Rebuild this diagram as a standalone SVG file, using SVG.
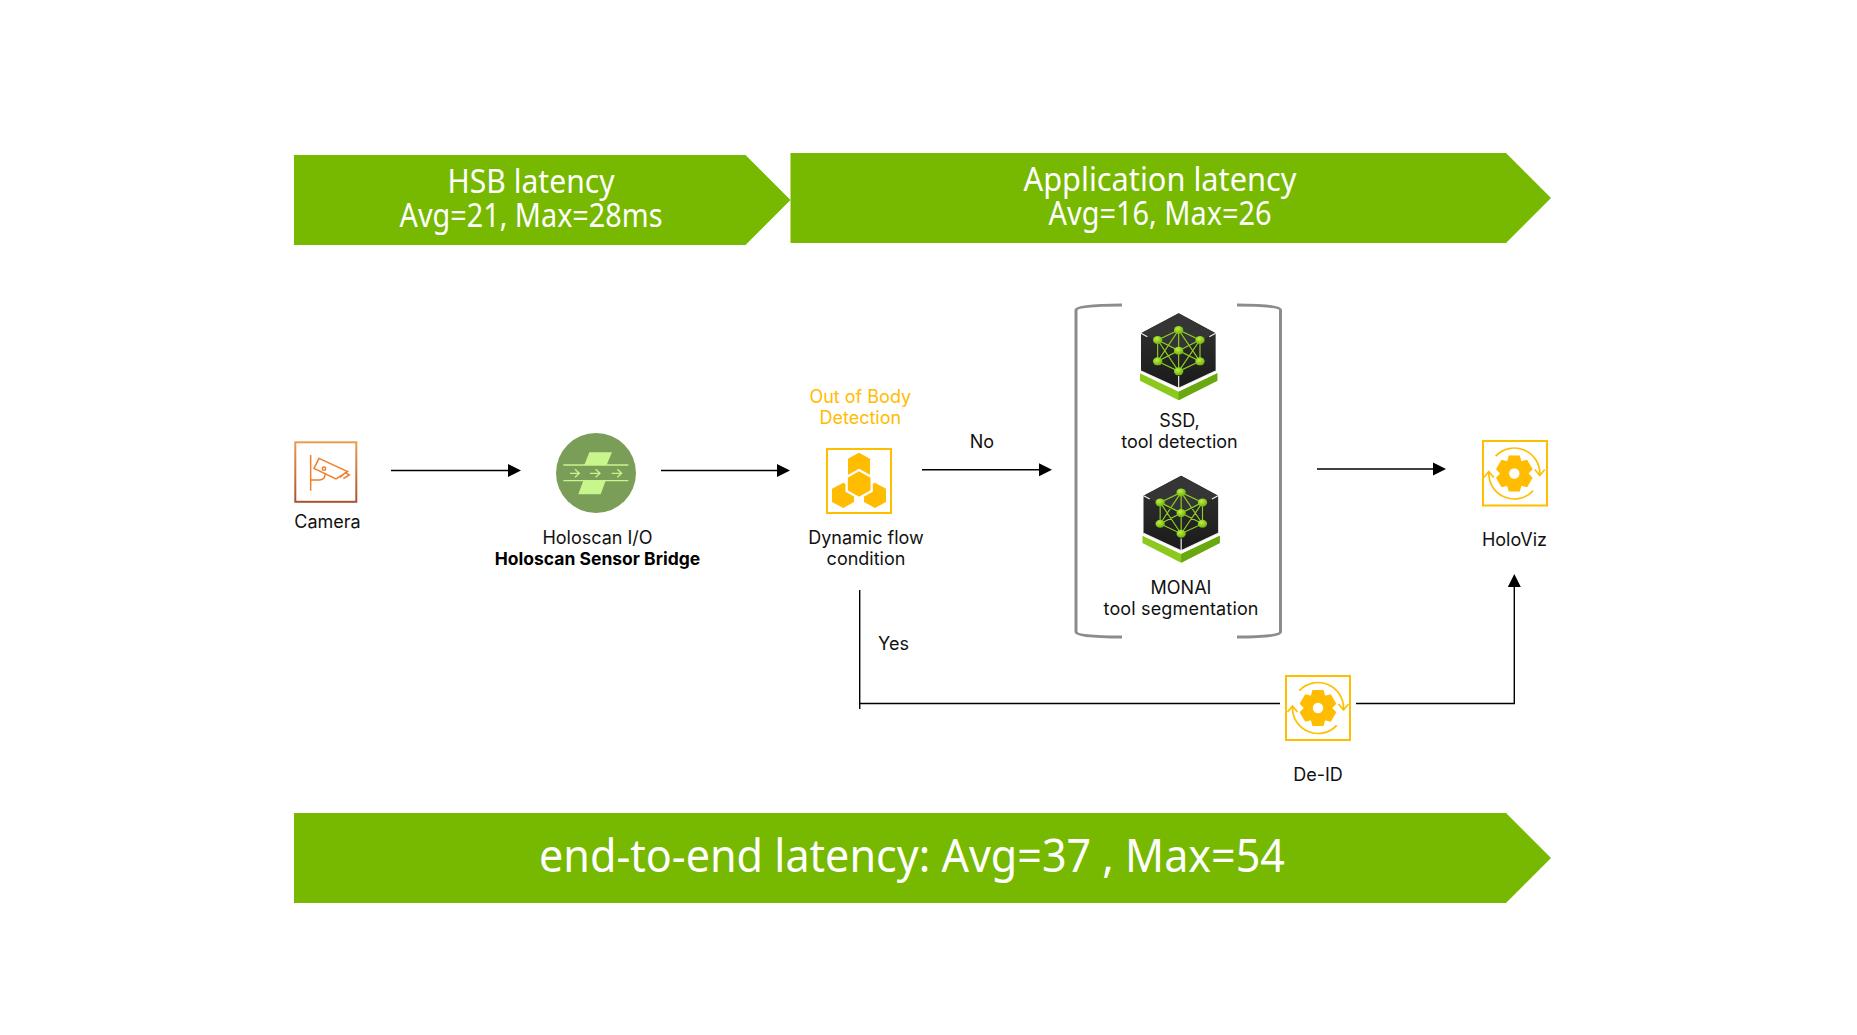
<svg xmlns="http://www.w3.org/2000/svg" width="1857" height="1035" viewBox="0 0 1857 1035">
<style>
.ban{fill:#76b900}
.bt{font-family:"Noto Sans","Open Sans",sans-serif;fill:#fff;text-anchor:middle}
.t{font-family:Inter,"Liberation Sans",sans-serif;font-size:18px;fill:#111;text-anchor:middle}
.b{font-weight:700;font-size:17.5px;fill:#000}
.y{fill:#ffbc00}
.box{fill:#fff;stroke:#ffbf00;stroke-width:2}
.c{fill:none;stroke:#000;stroke-width:1.4}
.cam{fill:none;stroke:#ef7f2d;stroke-width:4.5}
.arc{fill:none;stroke:#ffbf00;stroke-width:1.7}
</style>
<defs>
<marker id="ah" markerUnits="userSpaceOnUse" markerWidth="14" markerHeight="14" refX="0" refY="7" orient="auto"><path d="M0 0.5L13 7L0 13.5Z" fill="#000"/></marker>
<linearGradient id="cg" x1="0" y1="0" x2="0" y2="1"><stop offset="0" stop-color="#ea9a4f"/><stop offset="1" stop-color="#a9522e"/></linearGradient>
<linearGradient id="cube" x1="0" y1="0" x2="0" y2="1"><stop offset="0" stop-color="#333"/><stop offset="1" stop-color="#1a1a1a"/></linearGradient>
<radialGradient id="nd" cx="0.4" cy="0.35" r="0.7"><stop offset="0" stop-color="#bdf040"/><stop offset="1" stop-color="#6cae0c"/></radialGradient>
<g id="gear">
<circle r="13.2" fill="#ffbc00"/>
<g fill="#ffbc00">
<polygon id="tooth" points="-5.5,-18 5.5,-18 7.5,-11 -7.5,-11"/>
<use href="#tooth" transform="rotate(60)"/><use href="#tooth" transform="rotate(120)"/><use href="#tooth" transform="rotate(180)"/><use href="#tooth" transform="rotate(240)"/><use href="#tooth" transform="rotate(300)"/>
</g>
<circle r="5.2" fill="#fff"/>
<path id="ar" class="arc" d="M-18.7-17.3A25.5 25.5 0 0 1 25.5 1M20.5-4L25.5 2L30.5-4"/>
<use href="#ar" transform="rotate(180)"/>
</g>
<g id="nn">
<polygon points="240,250 356,305 472,250 472,272 356,331 240,272" fill="#8cc81e"/>
<polygon points="356,305 472,250 472,272 356,331" fill="#6aa812"/>
<polygon points="356,70 467,130 467,243 356,295 243,243 243,130" fill="url(#cube)"/>
<polygon points="356,70 467,130 356,182 243,130" fill="#353535"/>
<path d="M243 243L356 295L467 243M356 258V295M243 130L262 140M467 130L448 140" fill="none" stroke="#f2f2f2" stroke-width="3.5"/>
<path d="M356 120L293 150L356 182L420 150ZM293 214L356 244L420 214L356 182ZM293 150V214M420 150V214M356 120L293 214M356 120L420 214M356 120V244M293 150L356 244M420 150L356 244M293 150L420 214M420 150L293 214" fill="none" stroke="#8ed021" stroke-width="3.5"/>
<g fill="url(#nd)"><ellipse cx="356" cy="120" rx="14" ry="12"/><ellipse cx="293" cy="150" rx="14" ry="12"/><ellipse cx="420" cy="150" rx="14" ry="12"/><ellipse cx="356" cy="182" rx="14" ry="12"/><ellipse cx="293" cy="214" rx="14" ry="12"/><ellipse cx="420" cy="214" rx="14" ry="12"/><ellipse cx="356" cy="244" rx="14" ry="12"/></g>
</g>
</defs>
<rect width="1857" height="1035" fill="#fff"/>

<g id="banner-hsb"><polygon class="ban" points="294,155 745.5,155 790.5,200 745.5,245 294,245"/>
<text class="bt" font-size="32" x="531" y="193" textLength="167" lengthAdjust="spacingAndGlyphs">HSB latency</text><text class="bt" font-size="32" x="531" y="227" textLength="263" lengthAdjust="spacingAndGlyphs">Avg=21, Max=28ms</text></g>
<g id="banner-app"><polygon class="ban" points="790.5,153 1506,153 1551,198 1506,243 790.5,243"/>
<text class="bt" font-size="32" x="1160" y="191" textLength="273" lengthAdjust="spacingAndGlyphs">Application latency</text><text class="bt" font-size="32" x="1160" y="225" textLength="223" lengthAdjust="spacingAndGlyphs">Avg=16, Max=26</text></g>
<g id="banner-e2e"><polygon class="ban" points="294,813 1506,813 1551,858 1506,903 294,903"/>
<text class="bt" font-size="45" x="912" y="872" textLength="746" lengthAdjust="spacingAndGlyphs">end-to-end latency: Avg=37 , Max=54</text></g>

<g id="connectors">
<path class="c" marker-end="url(#ah)" d="M391 470.5H508"/>
<path class="c" marker-end="url(#ah)" d="M661 470.5H777"/>
<path class="c" marker-end="url(#ah)" d="M922 469.7H1039"/>
<path class="c" marker-end="url(#ah)" d="M1317 469H1433"/>
<path class="c" d="M859.7 590V709M859.7 703.5H1280"/>
<path class="c" marker-end="url(#ah)" d="M1356 703.5H1514.3V587"/>
</g>

<g id="camera"><rect x="295.3" y="442.3" width="61" height="59.5" fill="#fff" stroke="url(#cg)" stroke-width="2"/>
<g transform="translate(280 420) scale(.3333)"><path class="cam" d="M92 105V212M92 180H118Q135 180 135 163M117 115L203 155L168 177L102 145ZM180 172L196 158L208 165L190 176"/><circle class="cam" cx="132" cy="146" r="5"/></g>
<text class="t" x="327.5" y="528">Camera</text></g>

<g id="holoscan"><circle cx="596" cy="473" r="40" fill="#7a9e58"/>
<g transform="translate(490 425.7) scale(.3333)"><polygon points="298,80 366,80 350,118 283,118" fill="#c8f58c"/><polygon points="280,165 347,165 332,206 265,206" fill="#c8f58c"/>
<path d="M220 118H415M220 165H415M240 143H268M255 131L268 143L255 155M300 143H330M317 131L330 143L317 155M365 143H395M382 131L395 143L382 155" fill="none" stroke="#c8f58c" stroke-width="4"/></g>
<text class="t" x="597.5" y="544">Holoscan I/O</text><text class="t b" x="597.5" y="565">Holoscan Sensor Bridge</text></g>

<g id="dynamic-flow"><text class="t y" x="860.3" y="403">Out of Body</text><text class="t y" x="860.3" y="424">Detection</text>
<rect class="box" x="827" y="449" width="64" height="64"/>
<g transform="translate(780 370) scale(.3333)" fill="#ffbc00"><polygon points="237,248 270,266 270,315 204,315 204,266"/><polygon points="190,338 222,356 222,396 190,414 156,396 156,356"/><polygon points="285,338 318,356 318,396 285,414 252,396 252,356"/><polygon points="237,300 275,321 275,363 237,384 200,363 200,321" stroke="#fff" stroke-width="7"/></g>
<text class="t" x="866" y="544">Dynamic flow</text><text class="t" x="866" y="565">condition</text></g>

<g id="label-no"><text class="t" x="982" y="448">No</text></g>
<g id="label-yes"><text class="t" x="893.5" y="649.5">Yes</text></g>

<g id="models"><path d="M1122 305Q1076 305 1076 310V632Q1076 637 1122 637M1237 305Q1280.5 305 1280.5 310V632Q1280.5 637 1237 637" fill="none" stroke="#8c8c8c" stroke-width="3"/></g>
<g id="ssd"><use href="#nn" transform="translate(1060 290) scale(.3333)"/><text class="t" x="1179.5" y="427">SSD,</text><text class="t" x="1179.5" y="448">tool detection</text></g>
<g id="monai"><use href="#nn" transform="translate(1062.5 452.4) scale(.3333)"/><text class="t" x="1181" y="594">MONAI</text><text class="t" x="1181" y="615" textLength="155">tool segmentation</text></g>

<g id="holoviz"><rect class="box" x="1483" y="441" width="64" height="64.5"/><use href="#gear" transform="translate(1514.3 473.5)"/><text class="t" x="1514.5" y="546">HoloViz</text></g>
<g id="de-id"><rect class="box" x="1286" y="676" width="64" height="64"/><use href="#gear" transform="translate(1318 708)"/><text class="t" x="1318" y="781">De-ID</text></g>
</svg>
